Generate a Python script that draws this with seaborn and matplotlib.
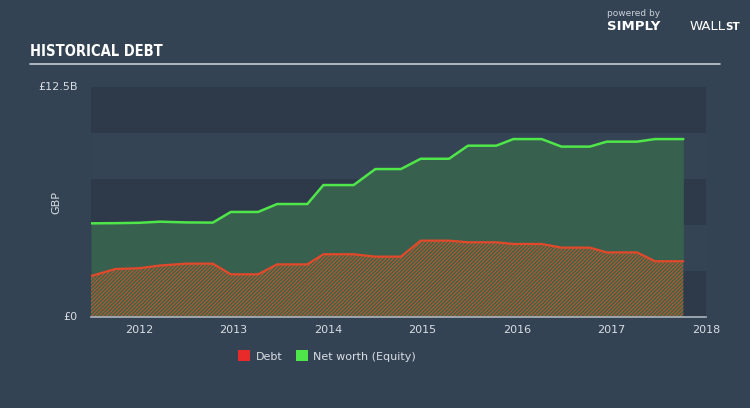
import matplotlib
matplotlib.use("Agg")
import matplotlib.pyplot as plt
import seaborn as sns
import pandas as pd
from matplotlib.patches import Patch

# ---- data (GBP billions, decimal years) ----
equity_t = [2011.49, 2011.75, 2012.0, 2012.22, 2012.5, 2012.78, 2012.97, 2013.26, 2013.46,
            2013.78, 2013.95, 2014.27, 2014.5, 2014.77, 2014.98, 2015.28, 2015.48, 2015.78,
            2015.96, 2016.26, 2016.47, 2016.77, 2016.95, 2017.27, 2017.46, 2017.76]
equity_v = [5.09, 5.10, 5.12, 5.18, 5.14, 5.13, 5.71, 5.71, 6.14,
            6.14, 7.17, 7.17, 8.04, 8.04, 8.60, 8.60, 9.31, 9.31,
            9.67, 9.67, 9.26, 9.26, 9.53, 9.53, 9.67, 9.67]
debt_v = [2.23, 2.61, 2.65, 2.80, 2.90, 2.90, 2.32, 2.32, 2.86,
          2.86, 3.41, 3.41, 3.28, 3.28, 4.15, 4.15, 4.06, 4.06,
          3.97, 3.97, 3.77, 3.77, 3.51, 3.51, 3.03, 3.03]
years = [2012, 2013, 2014, 2015, 2016, 2017, 2018]
year_labels = ["2012", "2013", "2014", "2015", "2016", "2017", "2018"]
y_ticks = [0, 12.5]
y_labels = ["£0", "£12.5B"]
legend_labels = ["Debt", "Net worth (Equity)"]

df = pd.DataFrame({"t": equity_t, "equity": equity_v, "debt": debt_v})

BG = "#344353"
BAND_DARK = "#2e3a4a"
BAND_LIGHT = "#354455"
GREEN_LINE = "#4fe64a"
GREEN_FILL = "#37614e"
RED_LINE = "#e2492b"
TEXT = "#d8dde3"

sns.set_style("white")
plt.rcParams["font.family"] = ["DejaVu Sans"]
plt.rcParams["hatch.linewidth"] = 0.7

fig = plt.figure(figsize=(7.5, 4.08), dpi=100, facecolor=BG)
ax = fig.add_axes([91 / 750, 91 / 408, 615 / 750, 230 / 408])
ax.set_facecolor(BAND_LIGHT)
for lo in (0, 5, 10):
    ax.axhspan(lo, lo + 2.5, color=BAND_DARK, lw=0, zorder=0)

ax.fill_between(df["t"], df["debt"], df["equity"], color=GREEN_FILL, lw=0, zorder=1)
ax.fill_between(df["t"], 0, df["debt"], facecolor="#3d6448", edgecolor="#c9562f",
                hatch="/" * 9, lw=0, zorder=1)

sns.lineplot(data=df, x="t", y="equity", color=GREEN_LINE, lw=1.8, ax=ax, zorder=3)
sns.lineplot(data=df, x="t", y="debt", color=RED_LINE, lw=1.6, ax=ax, zorder=3)

ax.set_xlim(2011.49, 2018.0)
ax.set_ylim(0, 12.5)
ax.set_xlabel("")
ax.set_ylabel("")
for s in ("top", "right", "left"):
    ax.spines[s].set_visible(False)
ax.spines["bottom"].set_color("#aab4bf")
ax.spines["bottom"].set_linewidth(1.2)
ax.set_xticks(years)
ax.set_xticklabels(year_labels)
ax.tick_params(axis="x", colors="#aab4bf", length=4, width=1, labelcolor=TEXT,
               labelsize=8, pad=1.5)
ax.set_yticks([])
for v, lab in zip(y_ticks, y_labels):
    ax.text(-0.022, v, lab, transform=ax.get_yaxis_transform(), ha="right",
            va="center", color=TEXT, fontsize=8)
fig.text(56 / 750, 1 - 202 / 408, "GBP", rotation=90, ha="center", va="center",
         color=TEXT, fontsize=8)

# title and rule
fig.text(30 / 750, 1 - 52 / 408, "HISTORICAL DEBT", ha="left", va="center",
         color="white", fontsize=10.5, fontweight="bold", fontstretch="condensed")
fig.add_artist(plt.Line2D([30 / 750, 720 / 750], [1 - 64 / 408, 1 - 64 / 408],
                          color="#c5ccd4", lw=1.2))

# branding
fig.text(607 / 750, 1 - 14 / 408, "powered by", ha="left", va="center",
         color="#c9d0d8", fontsize=6.5)
fig.text(607 / 750, 1 - 27 / 408, "SIMPLY", ha="left", va="center",
         color="white", fontsize=9.5, fontweight="bold")
fig.text(690 / 750, 1 - 27 / 408, "WALL", ha="left", va="center",
         color="white", fontsize=9.5)
fig.text(725 / 750, 1 - 27 / 408, "ST", ha="left", va="center",
         color="white", fontsize=7.5, fontweight="bold")

# legend
handles = [Patch(facecolor="#e82a2a", edgecolor="none"),
           Patch(facecolor="#4fe64a", edgecolor="none")]
fig.legend(handles, legend_labels, loc="center", bbox_to_anchor=(327 / 750, 1 - 356 / 408),
           ncol=2, frameon=False, fontsize=8, labelcolor=TEXT,
           handlelength=1.1, handleheight=1.1, handletextpad=0.5, columnspacing=1.2)

fig.savefig("out.png", dpi=100, facecolor=BG)
